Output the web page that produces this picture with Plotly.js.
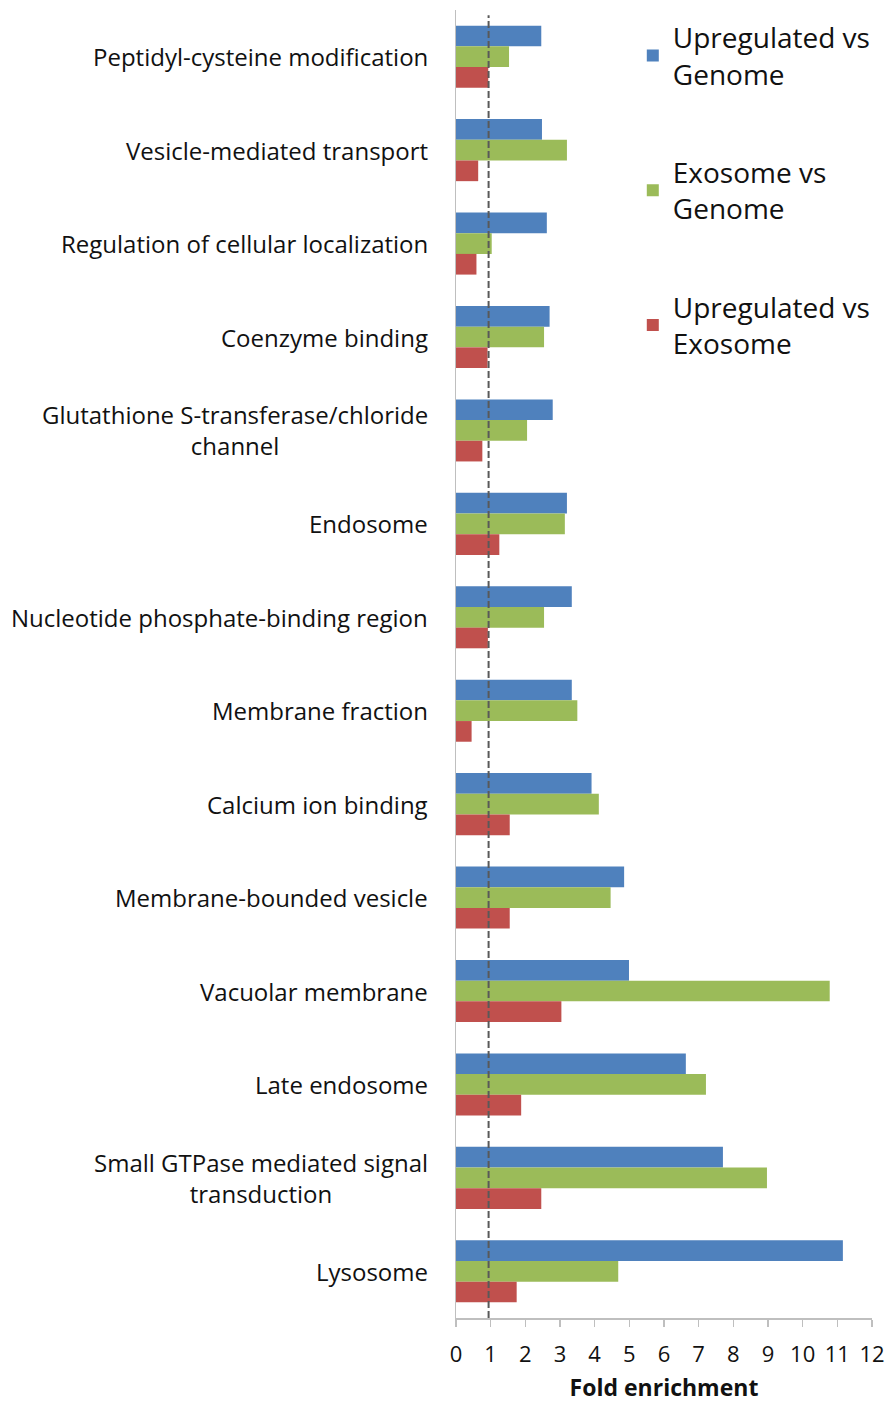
<!DOCTYPE html>
<html>
<head>
<meta charset="utf-8">
<script src="https://cdn.plot.ly/plotly-3.0.1.min.js"></script>
<style>html,body{margin:0;padding:0;background:#fff;}#chart{width:888px;height:1403px;}</style>
</head>
<body>
<div id="chart"></div>
<script>
var categories = [
  "Peptidyl-cysteine modification",
  "Vesicle-mediated transport",
  "Regulation of cellular localization",
  "Coenzyme binding",
  "Glutathione S-transferase/chloride<br>channel",
  "Endosome",
  "Nucleotide phosphate-binding region",
  "Membrane fraction",
  "Calcium ion binding",
  "Membrane-bounded vesicle",
  "Vacuolar membrane",
  "Late endosome",
  "Small GTPase mediated signal<br>transduction",
  "Lysosome"
];
var upregulatedVsGenome = [2.46, 2.48, 2.62, 2.70, 2.79, 3.20, 3.34, 3.34, 3.91, 4.85, 4.99, 6.63, 7.70, 11.16];
var exosomeVsGenome     = [1.53, 3.20, 1.03, 2.54, 2.05, 3.14, 2.54, 3.50, 4.12, 4.46, 10.78, 7.21, 8.97, 4.68];
var upregulatedVsExosome = [0.93, 0.64, 0.59, 0.91, 0.76, 1.25, 0.92, 0.45, 1.55, 1.55, 3.04, 1.88, 2.46, 1.75];
var seriesNames = ["Upregulated vs<br>Genome", "Exosome vs<br>Genome", "Upregulated vs<br>Exosome"];
var seriesColors = ["#4F81BD", "#9BBB59", "#C0504D"];
var xTicks = [0,1,2,3,4,5,6,7,8,9,10,11,12];
var referenceLine = 0.94;

var FONT = "'Open Sans', Lato, sans-serif";
var seriesValues = [upregulatedVsGenome, exosomeVsGenome, upregulatedVsExosome];
var traces = seriesValues.map(function(vals, i){
  return {
    type: "bar", orientation: "h",
    x: vals, y: categories,
    name: seriesNames[i],
    legendgroup: "g" + i,
    marker: {color: seriesColors[i], line: {width: 0}},
    hoverinfo: "x+y"
  };
});

var annotations = categories.map(function(c){
  return {
    text: c, xref: "paper", x: 0, xanchor: "right", xshift: -26,
    yref: "y", y: c, yanchor: "middle", align: "center",
    showarrow: false, font: {family: FONT, size: 24, color: "#111"}
  };
});

var layout = {
  width: 888, height: 1403,
  margin: {l: 456, r: 16, t: 10, b: 85},
  paper_bgcolor: "#fff", plot_bgcolor: "#fff",
  barmode: "group", bargap: 0.336, bargroupgap: 0,
  showlegend: true,
  legend: {
    x: 0.425, xanchor: "left", y: 0.998, yanchor: "top",
    traceorder: "grouped", tracegroupgap: 59,
    font: {family: FONT, size: 28, color: "#111"},
    bgcolor: "rgba(0,0,0,0)"
  },
  xaxis: {
    range: [0, 12], tickvals: xTicks, ticktext: xTicks.map(String),
    showgrid: false, zeroline: false,
    showline: true, linecolor: "#BFBFBF", linewidth: 1.5,
    ticks: "outside", ticklen: 7, tickcolor: "#BFBFBF", tickwidth: 1.5,
    ticklabelstandoff: 9,
    tickfont: {family: FONT, size: 22, color: "#111"},
    title: {text: "<b>Fold enrichment</b>", font: {family: FONT, size: 23, color: "#111"}, standoff: 26},
    fixedrange: true
  },
  yaxis: {
    type: "category", autorange: "reversed",
    showticklabels: false, ticks: "",
    showgrid: false, zeroline: false,
    showline: true, linecolor: "#BFBFBF", linewidth: 1.5,
    fixedrange: true
  },
  shapes: [{
    type: "line", xref: "x", yref: "paper",
    x0: referenceLine, x1: referenceLine, y0: 0, y1: 0.996,
    line: {color: "#595959", width: 2, dash: "7px,3px"}
  }],
  annotations: annotations
};

Plotly.newPlot("chart", traces, layout, {displayModeBar: false, staticPlot: true});
</script>
</body>
</html>
